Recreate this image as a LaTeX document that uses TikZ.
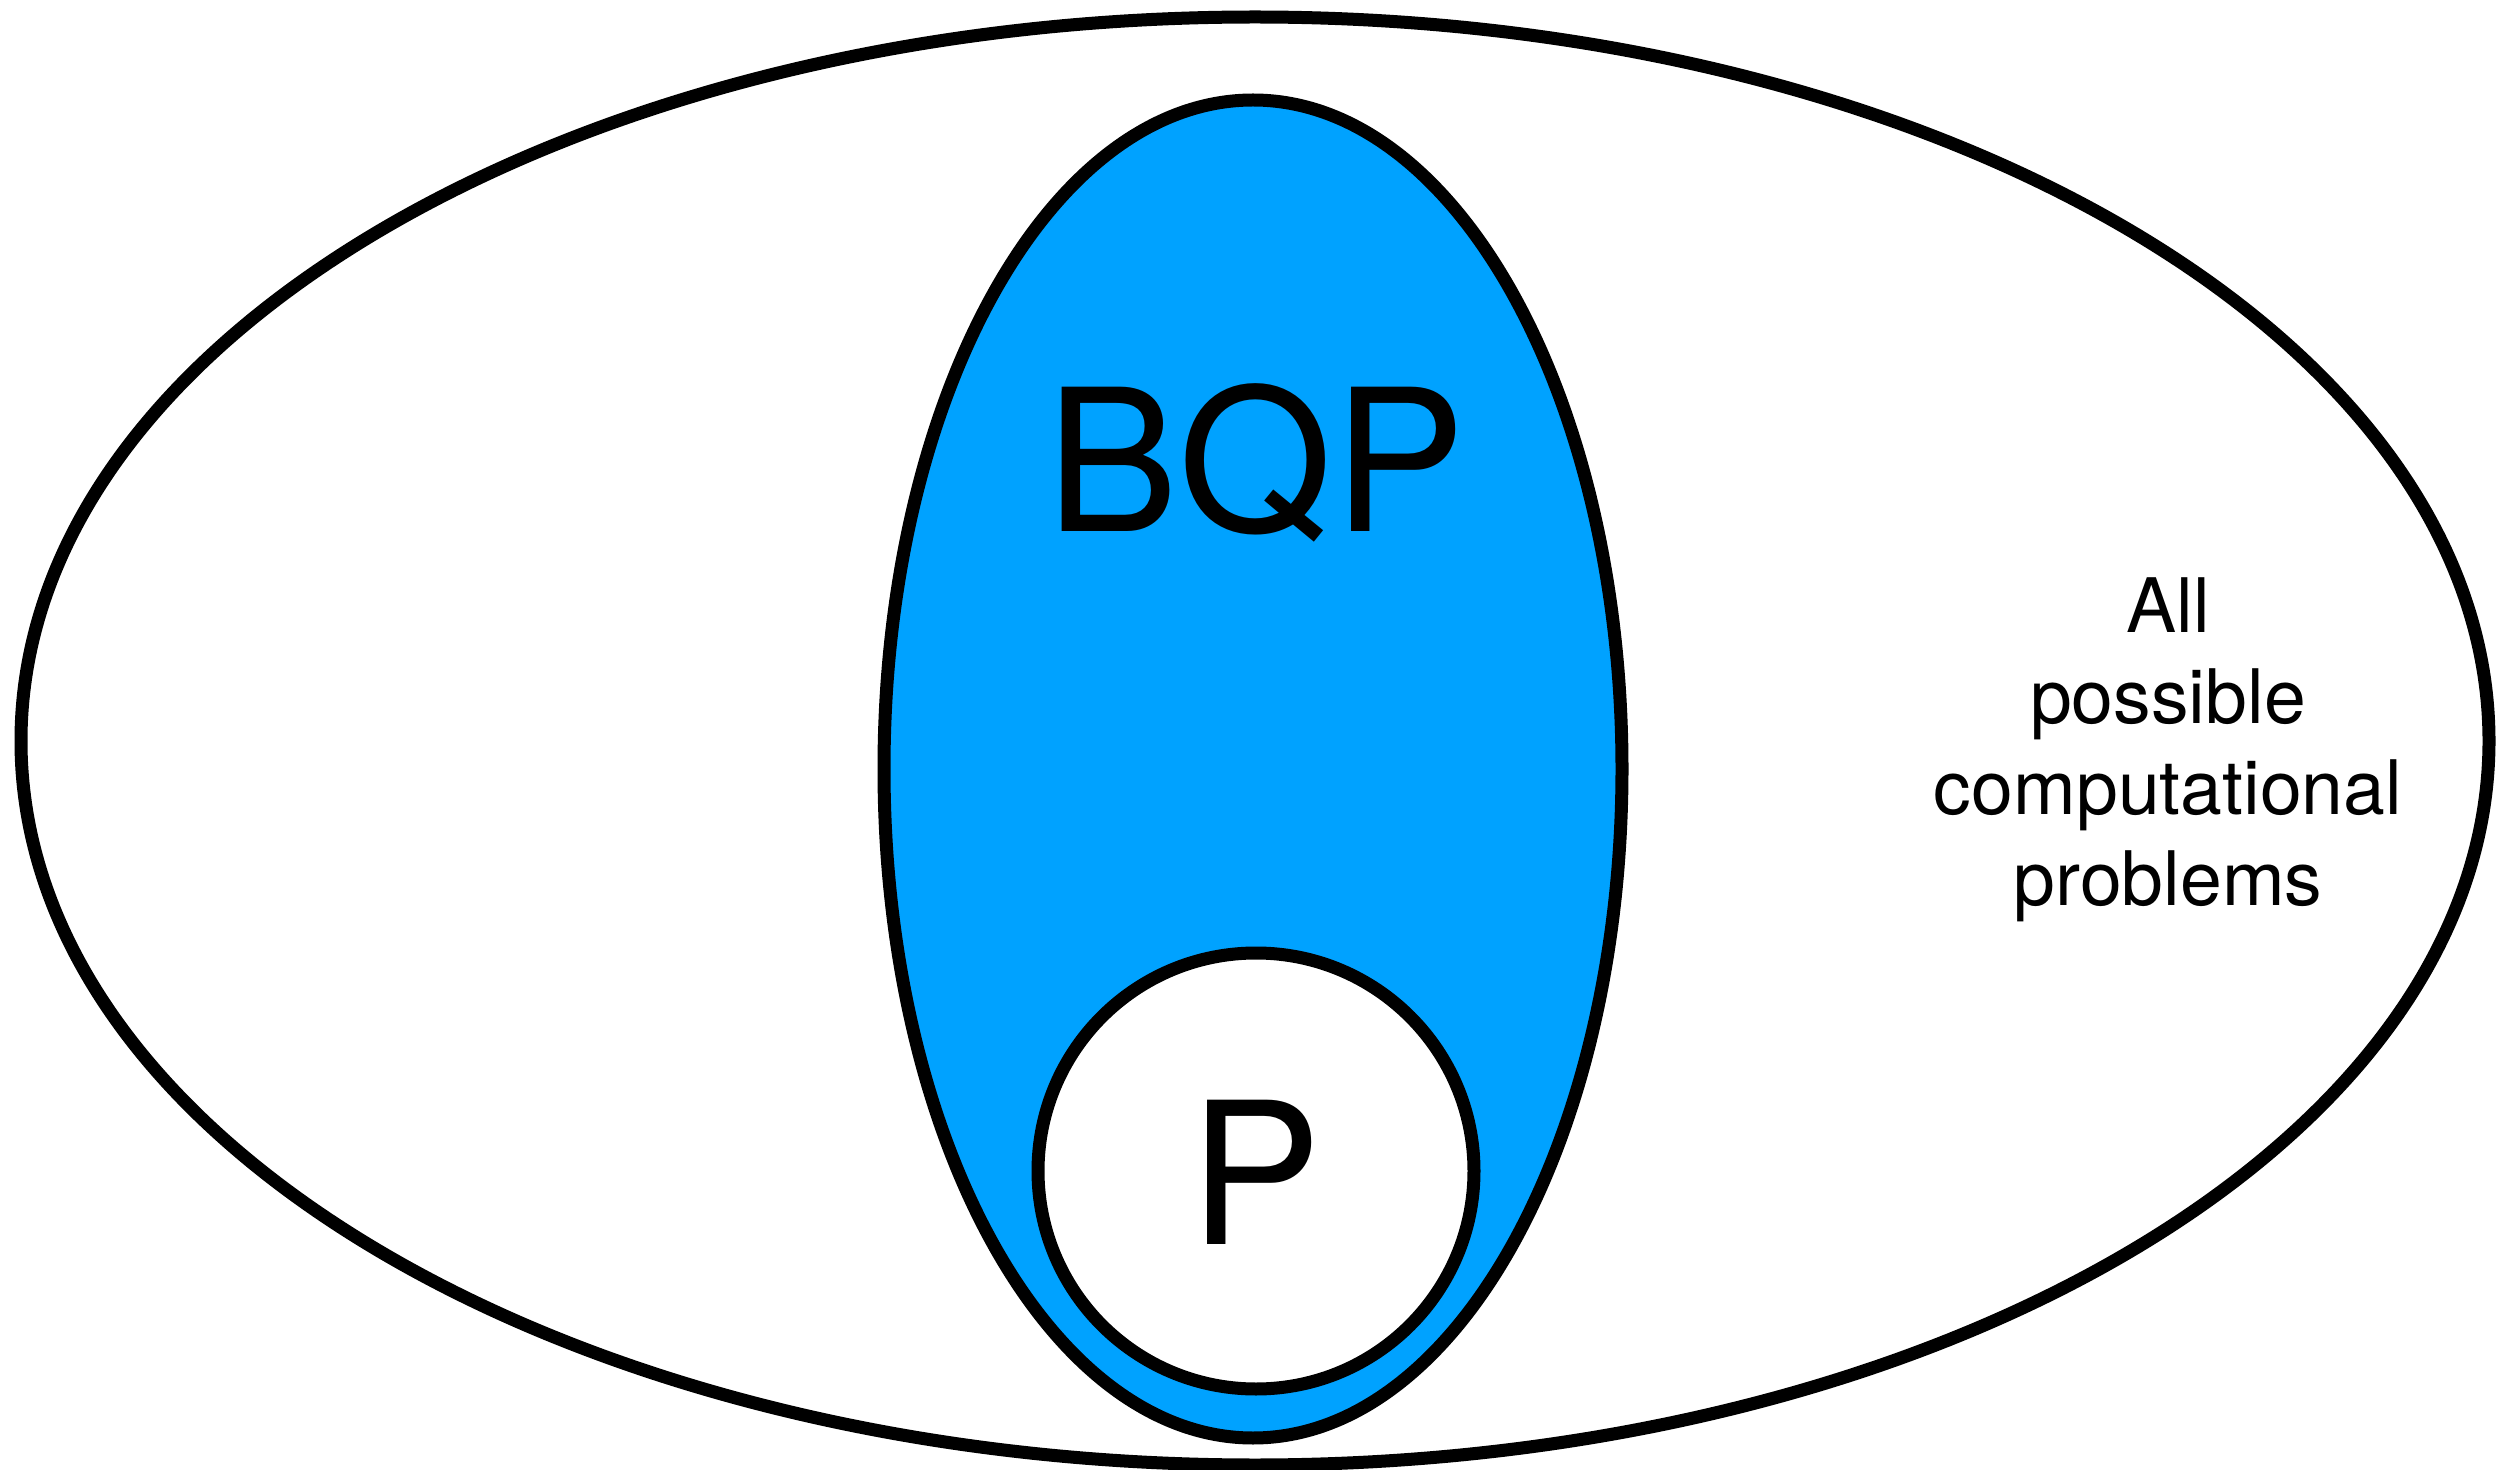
\documentclass[tikz,border=0pt]{standalone}
\usepackage{fontspec}
\setmainfont{TeX Gyre Heros}
\definecolor{bqpblue}{RGB}{0,162,255}
\begin{document}
\begin{tikzpicture}[x=0.5pt,y=-0.5pt,
  setline/.style={draw=black,line width=6.5pt},
  biglabel/.style={font=\fontsize{99pt}{110pt}\selectfont,inner sep=0pt,anchor=base},
  smalllabel/.style={font=\fontsize{37.6pt}{45.5pt}\selectfont,inner sep=0pt,align=center,anchor=base}]
\useasboundingbox (0,0) rectangle (2512,1470);
\fill[white] (0,0) rectangle (2512,1470);
\draw[setline,fill=white] (1255,741) ellipse [x radius=1234, y radius=724];
\draw[setline,fill=bqpblue] (1253,769) ellipse [x radius=369, y radius=669];
\draw[setline,fill=white] (1256,1171) circle [radius=218];
\node[biglabel] (bqp) at (1256,532) {BQP};
\node[biglabel] (p) at (1256,1244) {P};
\node[smalllabel] (all) at (2168,905) {All\\possible\\computational\\problems};
\end{tikzpicture}
\end{document}
